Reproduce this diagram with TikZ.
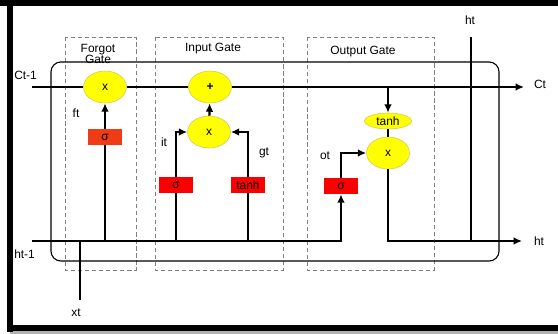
\documentclass[tikz,border=0pt]{standalone}
\usepackage{fontspec}
\setmainfont{Liberation Sans}
\usetikzlibrary{arrows.meta,shapes.geometric}
\definecolor{gateyellow}{RGB}{255,255,0}
\definecolor{gatered}{RGB}{250,0,0}
\definecolor{gateorange}{RGB}{240,60,20}
\begin{document}
\begin{tikzpicture}[x=0.025cm,y=-0.025cm,
		font=\fontsize{8.5}{9}\selectfont,
		op/.style={ellipse,draw=yellow!60!gray,fill=gateyellow,minimum width=1.075cm,minimum height=0.8cm,inner sep=0pt},
		act/.style={rectangle,fill=gatered,minimum width=0.85cm,minimum height=0.4cm,inner sep=0pt},
		gatebox/.style={draw=gray,densely dashed,line width=0.5pt},
		wire/.style={line width=1.6pt},
		bus/.style={line width=2.1pt},
		tip/.style={-{Latex[length=6pt,width=5.5pt]}}]
		\useasboundingbox (0,0) rectangle (558,334);
		% frame
		\fill[gray!60] (10,331) rectangle (558,334);
		\fill[black] (0,0) rectangle (558,6);
		\fill[black] (7,0) rectangle (13,332);
		\fill[black] (7,325) rectangle (558,331);
		% gates and cell
		\draw[gatebox] (65,37) rectangle (136,270);
		\draw[gatebox] (155,37) rectangle (283,270);
		\draw[gatebox] (307,37) rectangle (434,270);
		\draw[line width=0.8pt,rounded corners=7] (51,62) rectangle (499,261);
		\node[align=center] (fgl) at (98,54) {Forgot\\[-1.5pt]Gate};
		\node (igl) at (213,49) {Input Gate};
		\node (ogl) at (363,52) {Output Gate};
		% operations
		\node[op] (fx) at (105,87) {x};
		\node[op] (plus) at (210,87) {\textbf{+}};
		\node[op] (ix) at (209,132) {x};
		\node[op] (ox) at (388,153) {x};
		\node[op,minimum width=1.175cm,minimum height=0.4cm] (otanh) at (388,121) {tanh};
		\node[act,fill=gateorange] (fsig) at (105,137) {σ};
		\node[act] (isig) at (176,185) {σ};
		\node[act] (gtanh) at (248,185) {tanh};
		\node[act] (osig) at (341,186) {σ};
		% free ends
		\coordinate (cin) at (32,87);
		\coordinate (cout) at (524,87);
		\coordinate (ctap) at (388,87);
		\coordinate (hin) at (32,241);
		\coordinate (hjoin) at (341,241);
		\coordinate (hout) at (522,241);
		\coordinate (fbase) at (105,241);
		\coordinate (ibase) at (176,241);
		\coordinate (gbase) at (248,241);
		\coordinate (htop) at (471,37);
		\coordinate (hbot) at (471,241);
		\coordinate (xbot) at (80,300);
		\coordinate (xjoin) at (80,241);
		% connectors
		\draw[bus,tip] (cin) -- (fx) -- (plus) -- (cout);
		\draw[bus,tip] (hin) -- (hjoin) -- (osig);
		\draw[wire] (fbase) -- (fsig);
		\draw[wire,tip] (fsig) -- (fx);
		\draw[wire] (ibase) -- (isig);
		\draw[wire,tip] (isig) |- (ix);
		\draw[wire] (gbase) -- (gtanh);
		\draw[wire,tip] (gtanh) |- (ix);
		\draw[wire,tip] (ix) -- (plus);
		\draw[wire,tip] (ctap) -- (otanh);
		\draw[wire] (otanh) -- (ox);
		\draw[wire,tip] (osig) |- (ox);
		\draw[wire,tip] (ox) |- (hout);
		\draw[wire] (htop) -- (hbot);
		\draw[wire] (xbot) -- (xjoin);
		% labels
		\node[anchor=west,inner sep=0pt] (ctm) at (14,75) {Ct-1};
		\node (ct) at (540,84) {Ct};
		\node[anchor=west,inner sep=0pt] (htm) at (14,254) {ht-1};
		\node (ht) at (539,241) {ht};
		\node (httop) at (470,20) {ht};
		\node (xt) at (76,313) {xt};
		\node (ft) at (76,113) {ft};
		\node (it) at (164,142) {it};
		\node (gt) at (264,153) {gt};
		\node (ot) at (325,156) {ot};
\end{tikzpicture}
\end{document}
